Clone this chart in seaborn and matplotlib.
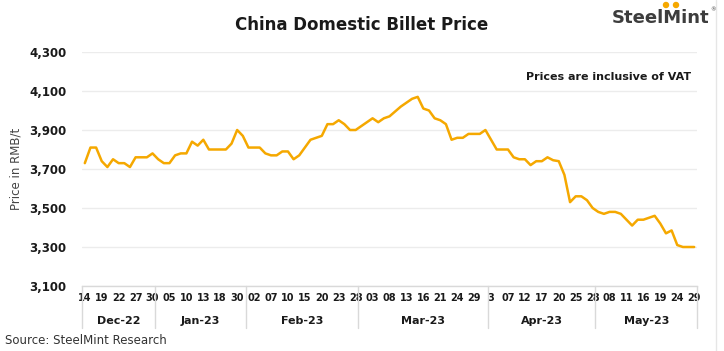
import matplotlib
matplotlib.use("Agg")
import matplotlib.pyplot as plt
import matplotlib.transforms as mtransforms
from matplotlib.patches import Ellipse
import numpy as np
import pandas as pd
import seaborn as sns

# ---- data ----
months = ["Dec-22", "Jan-23", "Feb-23", "Mar-23", "Apr-23", "May-23"]
days_dec = ["14", "15", "16", "19", "20", "21", "22", "23", "26", "27", "28", "29", "30"]
days_jan = ["03", "04", "05", "06", "09", "10", "11", "12", "13", "16", "17", "18", "19", "20", "30", "31"]
days_feb = ["01", "02", "03", "06", "07", "08", "09", "10", "13", "14", "15", "16", "17", "20", "21", "22", "23", "24", "27", "28"]
days_mar = ["01", "02", "03", "06", "07", "08", "09", "10", "13", "14", "15", "16", "17", "20", "21", "22", "23", "24", "27", "28", "29", "30", "31"]
days_apr = ["3", "04", "06", "07", "10", "11", "12", "13", "14", "17", "18", "19", "20", "21", "24", "25", "26", "27", "28"]
days_may = ["04", "05", "08", "09", "10", "11", "12", "15", "16", "17", "18", "19", "22", "23", "24", "25", "26", "29"]

price_dec = [3730, 3810, 3810, 3740, 3710, 3750, 3730, 3730, 3710, 3760, 3760, 3760, 3780]
price_jan = [3750, 3730, 3730, 3770, 3780, 3780, 3840, 3820, 3850, 3800, 3800, 3800, 3800, 3830, 3900, 3870]
price_feb = [3810, 3810, 3810, 3780, 3770, 3770, 3790, 3790, 3750, 3770, 3810, 3850, 3860, 3870, 3930, 3930, 3950, 3930, 3900, 3900]
price_mar = [3920, 3940, 3960, 3940, 3960, 3970, 3995, 4020, 4040, 4060, 4070, 4010, 4000, 3960, 3950, 3930, 3850, 3860, 3860, 3880, 3880, 3880, 3900]
price_apr = [3850, 3800, 3800, 3800, 3760, 3750, 3750, 3720, 3740, 3740, 3760, 3745, 3740, 3670, 3530, 3560, 3560, 3540, 3500]
price_may = [3480, 3470, 3480, 3480, 3470, 3440, 3410, 3440, 3440, 3450, 3460, 3420, 3370, 3385, 3310, 3300, 3300, 3300]

yticks = [3100, 3300, 3500, 3700, 3900, 4100, 4300]

day_groups = [days_dec, days_jan, days_feb, days_mar, days_apr, days_may]
price_groups = [price_dec, price_jan, price_feb, price_mar, price_apr, price_may]

days = [d for g in day_groups for d in g]
prices = [p for g in price_groups for p in g]
df = pd.DataFrame({"pos": np.arange(len(prices)), "price": prices, "day": days})

# ---- style ----
sns.set_theme(style="white")
plt.rcParams["font.family"] = ["DejaVu Sans"]

fig = plt.figure(figsize=(7.24, 3.51), dpi=100)
ax = fig.add_axes([82 / 724, 1 - 286 / 351, 615 / 724, 234 / 351])

sns.lineplot(data=df, x="pos", y="price", ax=ax, color="#F5A800", linewidth=1.8)

n = len(prices)
ax.set_xlim(-0.5, n - 0.5)
ax.set_ylim(3100, 4300)
ax.set_yticks(yticks)
ax.set_yticklabels([f"{v:,}" for v in yticks], fontsize=8.5, fontweight="bold", color="#1a1a1a")
ax.yaxis.grid(True, color="#ececec", linewidth=1)
ax.tick_params(axis="y", length=0, pad=11)

tick_pos = list(range(0, n, 3))
ax.set_xticks(tick_pos)
ax.set_xticklabels([days[i] for i in tick_pos], fontsize=7, fontweight="bold", color="#1a1a1a")
ax.tick_params(axis="x", length=0, pad=5)
ax.set_xlabel("")
ax.set_ylabel("Price in RMB/t", fontsize=8.5, color="#444444", labelpad=5)

for s in ["top", "right", "left"]:
    ax.spines[s].set_visible(False)
ax.spines["bottom"].set_color("#d9d9d9")
ax.spines["bottom"].set_linewidth(1)

# month separators and labels
trans = mtransforms.blended_transform_factory(ax.transData, ax.transAxes)
bounds = [-0.5]
for g in day_groups:
    bounds.append(bounds[-1] + len(g))
for b in bounds:
    ax.plot([b, b], [0, -0.18], transform=trans, color="#d9d9d9", linewidth=1, clip_on=False)
for m, a, b in zip(months, bounds[:-1], bounds[1:]):
    ax.text((a + b) / 2, -0.15, m, transform=trans, ha="center", va="center",
            fontsize=8, fontweight="bold", color="#1a1a1a")

# texts
fig.text(362 / 724, 1 - 25 / 351, "China Domestic Billet Price", ha="center", va="center",
         fontsize=12, fontweight="bold", color="#1a1a1a")
fig.text(691 / 724, 1 - 77 / 351, "Prices are inclusive of VAT", ha="right", va="center",
         fontsize=8, fontweight="bold", color="#1a1a1a")
fig.text(5 / 724, 1 - 341 / 351, "Source: SteelMint Research", ha="left", va="center",
         fontsize=8.5, color="#333333")
fig.text(612 / 724, 1 - 18 / 351, "SteelMint", ha="left", va="center",
         fontsize=13, fontweight="bold", color="#3d3d3d")
fig.text(710 / 724, 1 - 10 / 351, "®", ha="left", va="center", fontsize=4, color="#3d3d3d")
for dx in (666, 676):
    fig.add_artist(Ellipse((dx / 724, 1 - 5 / 351), 5 / 724, 5 / 351, color="#F5A800"))

fig.add_artist(plt.Line2D([716 / 724, 716 / 724], [0, 1], color="#e6e6e6", linewidth=1))

fig.savefig("out.png", dpi=100)
